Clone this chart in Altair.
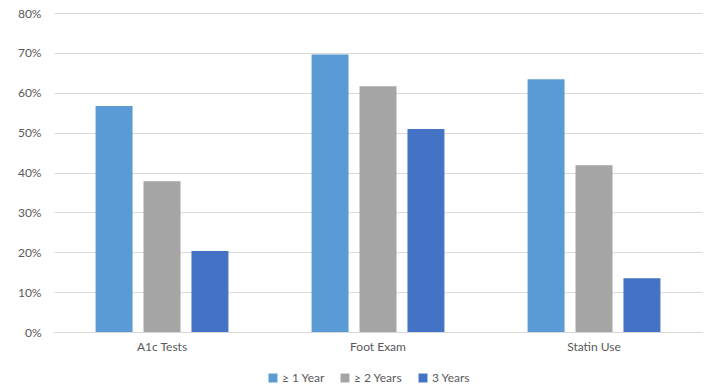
import altair as alt
import pandas as pd

categories = ["A1c Tests", "Foot Exam", "Statin Use"]
series = ["≥ 1 Year", "≥ 2 Years", "3 Years"]
values_1yr = [0.567, 0.696, 0.634]
values_2yr = [0.378, 0.616, 0.418]
values_3yr = [0.203, 0.509, 0.135]
colors = ["#5B9BD5", "#A5A5A5", "#4472C4"]

rows = []
for i, c in enumerate(categories):
    for s, vals in zip(series, [values_1yr, values_2yr, values_3yr]):
        rows.append({"category": c, "series": s, "value": vals[i]})
df = pd.DataFrame(rows)

font = "Lato"

chart = alt.Chart(df).mark_bar().encode(
    x=alt.X("category:N", sort=categories, title=None,
            scale=alt.Scale(paddingInner=0.385, paddingOuter=0.1925),
            axis=alt.Axis(labelAngle=0, ticks=False, domain=True, domainColor="#D9D9D9",
                          labelPadding=9, labelFontSize=12, labelColor="#595959",
                          labelFont=font, grid=False)),
    xOffset=alt.XOffset("series:N", sort=series,
                        scale=alt.Scale(paddingInner=0.229, paddingOuter=0)),
    y=alt.Y("value:Q", title=None,
            scale=alt.Scale(domain=[0, 0.8]),
            axis=alt.Axis(format=".0%", values=[0, .1, .2, .3, .4, .5, .6, .7, .8],
                          ticks=False, domain=False, gridColor="#D9D9D9",
                          labelPadding=13, labelFontSize=12, labelColor="#595959",
                          labelFont=font)),
    color=alt.Color("series:N", sort=series,
                    scale=alt.Scale(domain=series, range=colors),
                    legend=alt.Legend(title=None, orient="none", direction="horizontal",
                                      legendX=213, legendY=359,
                                      symbolType="square", symbolSize=80,
                                      symbolStrokeWidth=0,
                                      labelFontSize=12, labelColor="#595959",
                                      labelFont=font, columnPadding=14, labelOffset=3)),
).properties(
    width=648, height=319,
    autosize=alt.AutoSizeParams(type="none"),
    padding={"left": 54, "top": 13, "right": 4, "bottom": 55},
).configure_view(stroke=None)

chart.save("out.html", embed_options={"renderer": "svg", "actions": False})
